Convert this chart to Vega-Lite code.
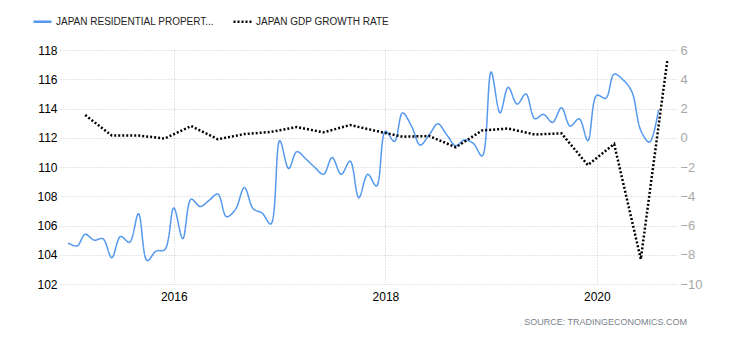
{
  "$schema": "https://vega.github.io/schema/vega-lite/v6.json",
  "width": 617,
  "height": 234,
  "autosize": {"type": "none"},
  "padding": {"left": 60, "top": 50, "right": 53, "bottom": 56},
  "background": "white",
  "config": {
    "view": {"stroke": null},
    "font": "Liberation Sans",
    "axis": {"labelFont": "Liberation Sans", "domain": false, "ticks": false, "title": null, "gridColor": "#c8c8c8", "gridDash": [1, 2], "gridWidth": 1}
  },
  "title": {"text": "SOURCE:   TRADINGECONOMICS.COM", "orient": "bottom", "anchor": "end", "frame": "group", "fontSize": 9, "fontWeight": "normal", "color": "#7a7f8c", "offset": 16, "dx": 10, "font": "Liberation Sans"},
  "datasets": {
    "property": [
      {"date": "2015-01-01", "value": 104.8, "series": "JAPAN RESIDENTIAL PROPERTY PRICES"},
      {"date": "2015-02-01", "value": 104.6, "series": "JAPAN RESIDENTIAL PROPERTY PRICES"},
      {"date": "2015-03-01", "value": 105.4, "series": "JAPAN RESIDENTIAL PROPERTY PRICES"},
      {"date": "2015-04-01", "value": 105.0, "series": "JAPAN RESIDENTIAL PROPERTY PRICES"},
      {"date": "2015-05-01", "value": 105.1, "series": "JAPAN RESIDENTIAL PROPERTY PRICES"},
      {"date": "2015-06-01", "value": 103.8, "series": "JAPAN RESIDENTIAL PROPERTY PRICES"},
      {"date": "2015-07-01", "value": 105.25, "series": "JAPAN RESIDENTIAL PROPERTY PRICES"},
      {"date": "2015-08-01", "value": 104.85, "series": "JAPAN RESIDENTIAL PROPERTY PRICES"},
      {"date": "2015-09-01", "value": 106.8, "series": "JAPAN RESIDENTIAL PROPERTY PRICES"},
      {"date": "2015-10-01", "value": 103.6, "series": "JAPAN RESIDENTIAL PROPERTY PRICES"},
      {"date": "2015-11-01", "value": 104.25, "series": "JAPAN RESIDENTIAL PROPERTY PRICES"},
      {"date": "2015-12-01", "value": 104.35, "series": "JAPAN RESIDENTIAL PROPERTY PRICES"},
      {"date": "2016-01-01", "value": 107.2, "series": "JAPAN RESIDENTIAL PROPERTY PRICES"},
      {"date": "2016-02-01", "value": 105.1, "series": "JAPAN RESIDENTIAL PROPERTY PRICES"},
      {"date": "2016-03-01", "value": 107.8, "series": "JAPAN RESIDENTIAL PROPERTY PRICES"},
      {"date": "2016-04-01", "value": 107.3, "series": "JAPAN RESIDENTIAL PROPERTY PRICES"},
      {"date": "2016-05-01", "value": 107.7, "series": "JAPAN RESIDENTIAL PROPERTY PRICES"},
      {"date": "2016-06-01", "value": 108.15, "series": "JAPAN RESIDENTIAL PROPERTY PRICES"},
      {"date": "2016-07-01", "value": 106.6, "series": "JAPAN RESIDENTIAL PROPERTY PRICES"},
      {"date": "2016-08-01", "value": 107.1, "series": "JAPAN RESIDENTIAL PROPERTY PRICES"},
      {"date": "2016-09-01", "value": 108.6, "series": "JAPAN RESIDENTIAL PROPERTY PRICES"},
      {"date": "2016-10-01", "value": 107.15, "series": "JAPAN RESIDENTIAL PROPERTY PRICES"},
      {"date": "2016-11-01", "value": 106.85, "series": "JAPAN RESIDENTIAL PROPERTY PRICES"},
      {"date": "2016-12-01", "value": 106.1, "series": "JAPAN RESIDENTIAL PROPERTY PRICES"},
      {"date": "2017-01-01", "value": 111.8, "series": "JAPAN RESIDENTIAL PROPERTY PRICES"},
      {"date": "2017-02-01", "value": 109.9, "series": "JAPAN RESIDENTIAL PROPERTY PRICES"},
      {"date": "2017-03-01", "value": 111.05, "series": "JAPAN RESIDENTIAL PROPERTY PRICES"},
      {"date": "2017-04-01", "value": 110.55, "series": "JAPAN RESIDENTIAL PROPERTY PRICES"},
      {"date": "2017-05-01", "value": 110.0, "series": "JAPAN RESIDENTIAL PROPERTY PRICES"},
      {"date": "2017-06-01", "value": 109.5, "series": "JAPAN RESIDENTIAL PROPERTY PRICES"},
      {"date": "2017-07-01", "value": 110.65, "series": "JAPAN RESIDENTIAL PROPERTY PRICES"},
      {"date": "2017-08-01", "value": 109.5, "series": "JAPAN RESIDENTIAL PROPERTY PRICES"},
      {"date": "2017-09-01", "value": 110.4, "series": "JAPAN RESIDENTIAL PROPERTY PRICES"},
      {"date": "2017-10-01", "value": 107.9, "series": "JAPAN RESIDENTIAL PROPERTY PRICES"},
      {"date": "2017-11-01", "value": 109.5, "series": "JAPAN RESIDENTIAL PROPERTY PRICES"},
      {"date": "2017-12-01", "value": 108.7, "series": "JAPAN RESIDENTIAL PROPERTY PRICES"},
      {"date": "2018-01-01", "value": 112.45, "series": "JAPAN RESIDENTIAL PROPERTY PRICES"},
      {"date": "2018-02-01", "value": 111.75, "series": "JAPAN RESIDENTIAL PROPERTY PRICES"},
      {"date": "2018-03-01", "value": 113.7, "series": "JAPAN RESIDENTIAL PROPERTY PRICES"},
      {"date": "2018-04-01", "value": 112.8, "series": "JAPAN RESIDENTIAL PROPERTY PRICES"},
      {"date": "2018-05-01", "value": 111.5, "series": "JAPAN RESIDENTIAL PROPERTY PRICES"},
      {"date": "2018-06-01", "value": 112.2, "series": "JAPAN RESIDENTIAL PROPERTY PRICES"},
      {"date": "2018-07-01", "value": 112.95, "series": "JAPAN RESIDENTIAL PROPERTY PRICES"},
      {"date": "2018-08-01", "value": 112.2, "series": "JAPAN RESIDENTIAL PROPERTY PRICES"},
      {"date": "2018-09-01", "value": 111.45, "series": "JAPAN RESIDENTIAL PROPERTY PRICES"},
      {"date": "2018-10-01", "value": 111.85, "series": "JAPAN RESIDENTIAL PROPERTY PRICES"},
      {"date": "2018-11-01", "value": 111.6, "series": "JAPAN RESIDENTIAL PROPERTY PRICES"},
      {"date": "2018-12-01", "value": 110.75, "series": "JAPAN RESIDENTIAL PROPERTY PRICES"},
      {"date": "2019-01-01", "value": 116.5, "series": "JAPAN RESIDENTIAL PROPERTY PRICES"},
      {"date": "2019-02-01", "value": 113.7, "series": "JAPAN RESIDENTIAL PROPERTY PRICES"},
      {"date": "2019-03-01", "value": 115.45, "series": "JAPAN RESIDENTIAL PROPERTY PRICES"},
      {"date": "2019-04-01", "value": 114.3, "series": "JAPAN RESIDENTIAL PROPERTY PRICES"},
      {"date": "2019-05-01", "value": 115.0, "series": "JAPAN RESIDENTIAL PROPERTY PRICES"},
      {"date": "2019-06-01", "value": 113.3, "series": "JAPAN RESIDENTIAL PROPERTY PRICES"},
      {"date": "2019-07-01", "value": 113.6, "series": "JAPAN RESIDENTIAL PROPERTY PRICES"},
      {"date": "2019-08-01", "value": 113.05, "series": "JAPAN RESIDENTIAL PROPERTY PRICES"},
      {"date": "2019-09-01", "value": 114.05, "series": "JAPAN RESIDENTIAL PROPERTY PRICES"},
      {"date": "2019-10-01", "value": 112.8, "series": "JAPAN RESIDENTIAL PROPERTY PRICES"},
      {"date": "2019-11-01", "value": 113.3, "series": "JAPAN RESIDENTIAL PROPERTY PRICES"},
      {"date": "2019-12-01", "value": 111.8, "series": "JAPAN RESIDENTIAL PROPERTY PRICES"},
      {"date": "2020-01-01", "value": 114.9, "series": "JAPAN RESIDENTIAL PROPERTY PRICES"},
      {"date": "2020-02-01", "value": 114.7, "series": "JAPAN RESIDENTIAL PROPERTY PRICES"},
      {"date": "2020-03-01", "value": 116.35, "series": "JAPAN RESIDENTIAL PROPERTY PRICES"},
      {"date": "2020-04-01", "value": 115.95, "series": "JAPAN RESIDENTIAL PROPERTY PRICES"},
      {"date": "2020-05-01", "value": 115.15, "series": "JAPAN RESIDENTIAL PROPERTY PRICES"},
      {"date": "2020-06-01", "value": 112.5, "series": "JAPAN RESIDENTIAL PROPERTY PRICES"},
      {"date": "2020-07-01", "value": 111.7, "series": "JAPAN RESIDENTIAL PROPERTY PRICES"},
      {"date": "2020-08-01", "value": 113.9, "series": "JAPAN RESIDENTIAL PROPERTY PRICES"}
    ],
    "gdp": [
      {"date": "2015-03-01", "value": 1.55, "series": "JAPAN GDP GROWTH RATE"},
      {"date": "2015-06-01", "value": 0.15, "series": "JAPAN GDP GROWTH RATE"},
      {"date": "2015-09-01", "value": 0.15, "series": "JAPAN GDP GROWTH RATE"},
      {"date": "2015-12-01", "value": -0.05, "series": "JAPAN GDP GROWTH RATE"},
      {"date": "2016-03-01", "value": 0.8, "series": "JAPAN GDP GROWTH RATE"},
      {"date": "2016-06-01", "value": -0.1, "series": "JAPAN GDP GROWTH RATE"},
      {"date": "2016-09-01", "value": 0.25, "series": "JAPAN GDP GROWTH RATE"},
      {"date": "2016-12-01", "value": 0.4, "series": "JAPAN GDP GROWTH RATE"},
      {"date": "2017-03-01", "value": 0.73, "series": "JAPAN GDP GROWTH RATE"},
      {"date": "2017-06-01", "value": 0.37, "series": "JAPAN GDP GROWTH RATE"},
      {"date": "2017-09-01", "value": 0.87, "series": "JAPAN GDP GROWTH RATE"},
      {"date": "2017-12-01", "value": 0.46, "series": "JAPAN GDP GROWTH RATE"},
      {"date": "2018-03-01", "value": 0.07, "series": "JAPAN GDP GROWTH RATE"},
      {"date": "2018-06-01", "value": 0.12, "series": "JAPAN GDP GROWTH RATE"},
      {"date": "2018-09-01", "value": -0.65, "series": "JAPAN GDP GROWTH RATE"},
      {"date": "2018-12-01", "value": 0.5, "series": "JAPAN GDP GROWTH RATE"},
      {"date": "2019-03-01", "value": 0.63, "series": "JAPAN GDP GROWTH RATE"},
      {"date": "2019-06-01", "value": 0.22, "series": "JAPAN GDP GROWTH RATE"},
      {"date": "2019-09-01", "value": 0.3, "series": "JAPAN GDP GROWTH RATE"},
      {"date": "2019-12-01", "value": -1.87, "series": "JAPAN GDP GROWTH RATE"},
      {"date": "2020-03-01", "value": -0.43, "series": "JAPAN GDP GROWTH RATE"},
      {"date": "2020-06-01", "value": -8.3, "series": "JAPAN GDP GROWTH RATE"},
      {"date": "2020-09-01", "value": 5.35, "series": "JAPAN GDP GROWTH RATE"}
    ]
  },
  "layer": [
    {
      "data": {"name": "property"},
      "mark": {"type": "line", "interpolate": "catmull-rom", "strokeWidth": 1.5},
      "encoding": {
        "x": {
          "field": "date", "type": "temporal",
          "scale": {"domain": [{"year": 2014, "month": 12, "date": 4, "utc": true}, {"year": 2020, "month": 10, "date": 4, "utc": true}]},
          "axis": {"values": [{"year": 2016, "utc": true}, {"year": 2018, "utc": true}, {"year": 2020, "utc": true}], "format": "%Y", "labelFontSize": 12, "labelColor": "#000000", "labelPadding": 7, "grid": true}
        },
        "y": {
          "field": "value", "type": "quantitative",
          "scale": {"domain": [102, 118], "nice": false, "zero": false},
          "axis": {"orient": "left", "values": [102, 104, 106, 108, 110, 112, 114, 116, 118], "labelFontSize": 12, "labelColor": "#000000", "labelPadding": 3, "grid": true}
        },
        "color": {
          "field": "series", "type": "nominal",
          "scale": {"domain": ["JAPAN RESIDENTIAL PROPERTY PRICES", "JAPAN GDP GROWTH RATE"], "range": ["#5599ee", "#000000"]},
          "legend": {"orient": "none", "legendX": -28, "legendY": -39, "direction": "horizontal", "title": null, "symbolType": "stroke", "symbolSize": 324, "symbolStrokeWidth": 2.5, "labelFontSize": 10, "labelColor": "#222222", "labelFont": "Liberation Sans", "labelOffset": 3, "columnPadding": 13, "padding": 0, "labelLimit": 300,
            "labelExpr": "datum.label == 'JAPAN RESIDENTIAL PROPERTY PRICES' ? 'JAPAN RESIDENTIAL PROPERT...' : datum.label"}
        },
        "strokeDash": {
          "field": "series", "type": "nominal",
          "scale": {"domain": ["JAPAN RESIDENTIAL PROPERTY PRICES", "JAPAN GDP GROWTH RATE"], "range": [[1, 0], [2, 2]]},
          "legend": {"orient": "none", "legendX": -28, "legendY": -39, "direction": "horizontal", "title": null, "symbolType": "stroke", "symbolSize": 324, "symbolStrokeWidth": 2.5, "labelFontSize": 10, "labelColor": "#222222", "labelFont": "Liberation Sans", "labelOffset": 3, "columnPadding": 13, "padding": 0, "labelLimit": 300,
            "labelExpr": "datum.label == 'JAPAN RESIDENTIAL PROPERTY PRICES' ? 'JAPAN RESIDENTIAL PROPERT...' : datum.label"}
        }
      }
    },
    {
      "data": {"name": "gdp"},
      "mark": {"type": "line", "interpolate": "linear", "strokeWidth": 2.5},
      "encoding": {
        "x": {"field": "date", "type": "temporal"},
        "y": {
          "field": "value", "type": "quantitative",
          "scale": {"domain": [-10, 6], "nice": false, "zero": false},
          "axis": {"orient": "right", "values": [-10, -8, -6, -4, -2, 0, 2, 4, 6], "labelFontSize": 13, "labelColor": "#a8a8a8", "labelPadding": 3, "grid": false}
        },
        "color": {"field": "series", "type": "nominal"},
        "strokeDash": {"field": "series", "type": "nominal"}
      }
    }
  ],
  "resolve": {"scale": {"y": "independent"}}
}
